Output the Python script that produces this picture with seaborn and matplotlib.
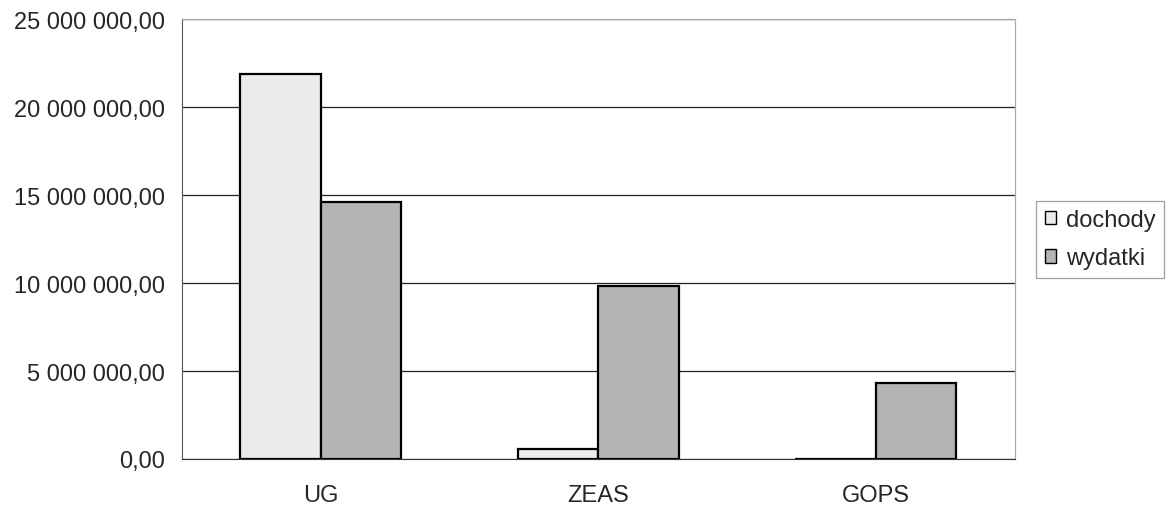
import pandas as pd
import seaborn as sns
import matplotlib.pyplot as plt
from matplotlib.ticker import FuncFormatter, FixedLocator

categories = ["UG", "ZEAS", "GOPS"]
dochody = [21900000, 570000, 0]
wydatki = [14630000, 9830000, 4330000]

df = pd.DataFrame({
    "jednostka": categories * 2,
    "kwota": dochody + wydatki,
    "typ": ["dochody"] * 3 + ["wydatki"] * 3,
})

sns.set_style("white")
plt.rcParams["font.family"] = ["Liberation Sans", "DejaVu Sans"]

fig = plt.figure(figsize=(11.69, 5.06), dpi=100)
ax = fig.add_axes([0.1557, 0.091, 0.868 - 0.1557, 0.96 - 0.091])

sns.barplot(data=df, x="jednostka", y="kwota", hue="typ",
            palette={"dochody": "#ebebeb", "wydatki": "#b4b4b4"},
            width=0.58, edgecolor="black", linewidth=1.6, ax=ax, zorder=3)

ax.set_ylim(0, 25000000)
ax.set_xlim(-0.5, 2.5)
ax.set_yticks(range(0, 25000001, 5000000))
ax.yaxis.set_major_formatter(FuncFormatter(
    lambda v, p: f"{v:,.2f}".replace(",", " ").replace(".", ",")))
ax.grid(axis="y", color="#222222", linewidth=0.9, zorder=0)
ax.set_axisbelow(True)

ax.xaxis.set_minor_locator(FixedLocator([-0.5, 0.5, 1.5, 2.5]))
ax.tick_params(axis="x", which="major", length=0, pad=18, labelsize=17)
ax.tick_params(axis="x", which="minor", length=6, width=0.9, color="#333333", direction="out")
ax.tick_params(axis="y", length=6, width=0.9, color="#333333", direction="out", labelsize=17, pad=6)
ax.set_xlabel("")
ax.set_ylabel("")

for side in ["top", "right"]:
    ax.spines[side].set_color("#aaaaaa")
    ax.spines[side].set_linestyle((0, (1, 1)))
    ax.spines[side].set_linewidth(0.9)
ax.spines["left"].set_color("#555555")
ax.spines["bottom"].set_color("#333333")
ax.spines["bottom"].set_zorder(5)

leg = ax.legend(loc="center left", bbox_to_anchor=(1.026, 0.5), frameon=True,
                fontsize=17, handlelength=0.5, handleheight=0.5, handletextpad=0.4,
                borderpad=0.35, borderaxespad=0, labelspacing=0.7, fancybox=False)
leg.get_frame().set_edgecolor("#888888")
leg.get_frame().set_linewidth(0.9)
for h in leg.legend_handles:
    h.set_edgecolor("black")
    h.set_linewidth(1.0)

fig.savefig("out.png", dpi=100)
